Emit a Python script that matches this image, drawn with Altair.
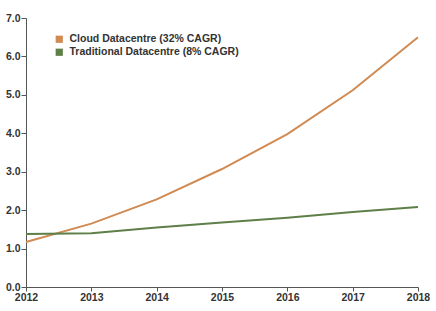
import altair as alt
import pandas as pd

years = [2012, 2013, 2014, 2015, 2016, 2017, 2018]
cloud = [1.17, 1.65, 2.28, 3.07, 3.98, 5.12, 6.50]
traditional = [1.38, 1.40, 1.55, 1.68, 1.80, 1.95, 2.08]
series_names = ["Cloud Datacentre (32% CAGR)", "Traditional Datacentre (8% CAGR)"]
line_colors = ["#d08a52", "#5e7f47"]
y_ticks = [0, 1, 2, 3, 4, 5, 6, 7]

rows = []
for y, c, t in zip(years, cloud, traditional):
    rows.append({"year": y, "value": c, "series": series_names[0]})
    rows.append({"year": y, "value": t, "series": series_names[1]})
df = pd.DataFrame(rows)

font = "Liberation Sans"

x_enc = alt.X("year:Q", scale=alt.Scale(domain=[2012, 2018], nice=False, zero=False),
              axis=alt.Axis(values=years, format="d", title=None, grid=False,
                            labelFont=font, labelFontWeight="bold", labelFontSize=10.5,
                            labelColor="#333", domainColor="#555", tickColor="#555",
                            tickSize=4, labelPadding=1, labelFlush=False))
y_enc = alt.Y("value:Q", scale=alt.Scale(domain=[0, 7], nice=False),
              axis=alt.Axis(values=y_ticks, format=".1f", title=None, grid=False,
                            labelFont=font, labelFontWeight="bold", labelFontSize=10.5,
                            labelColor="#333", domainColor="#555", tickColor="#555",
                            tickSize=5, labelPadding=1))
cscale = alt.Scale(domain=series_names, range=line_colors)
legend = alt.Legend(title=None, orient="none", legendX=28, legendY=16,
                    symbolType="square", symbolSize=52,
                    symbolStrokeWidth=0, symbolOpacity=1,
                    labelFont=font, labelFontWeight="bold",
                    labelFontSize=10.5, labelColor="#333",
                    labelLimit=400, rowPadding=2, labelOffset=5)

pts = alt.Chart(df).mark_point(shape="square", filled=True, opacity=0, size=1).encode(
    x=x_enc, y=y_enc,
    color=alt.Color("series:N", scale=cscale, legend=legend),
)

lines = alt.Chart(df).mark_line(strokeWidth=2).encode(
    x=x_enc, y=y_enc,
    color=alt.Color("series:N", scale=cscale, legend=legend),
)

chart = alt.layer(pts, lines).properties(
    width=392, height=269,
    autosize=alt.AutoSizeParams(type="none"),
    padding={"left": 26, "top": 18, "right": 18, "bottom": 24},
).configure_view(stroke=None)

chart.save("out.html", embed_options={"renderer": "svg", "actions": False})
